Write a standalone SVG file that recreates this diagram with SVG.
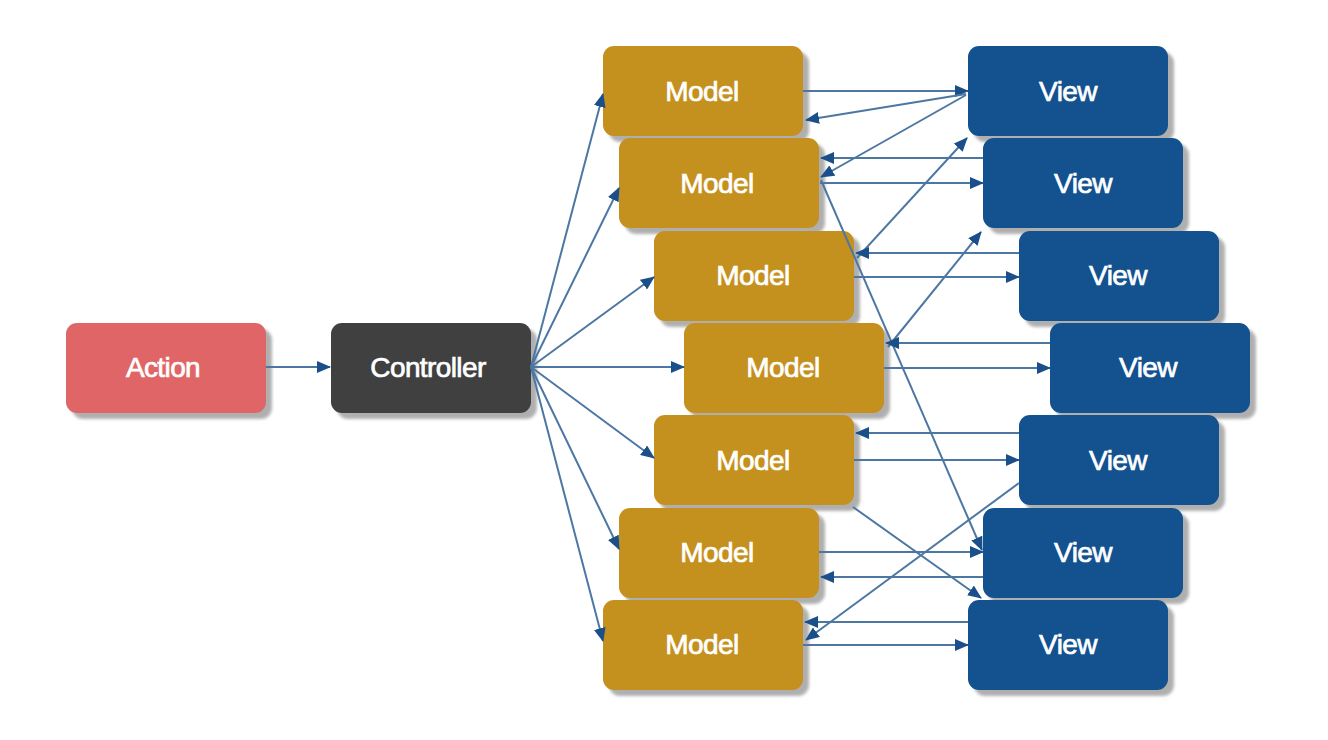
<svg xmlns="http://www.w3.org/2000/svg" width="1328" height="740" viewBox="0 0 1328 740">
<defs>
<style>
.sh{fill:#9c9c9c;opacity:0.8}
.box{stroke:none}
.action{fill:#DF6566}
.ctrl{fill:#404040}
.model{fill:#C4911F}
.view{fill:#13528F}
.lbl{font-family:"Liberation Sans",Arial,sans-serif;font-size:28px;letter-spacing:-0.6px;fill:#ffffff;stroke:#ffffff;stroke-width:0.7px;text-anchor:middle}
.c{stroke:#4d77a3;stroke-width:2;fill:none;marker-end:url(#ah)}
</style>
<filter id="blur" x="-10%" y="-10%" width="120%" height="120%"><feGaussianBlur stdDeviation="1.5"/></filter>
<marker id="ah" markerUnits="userSpaceOnUse" markerWidth="14" markerHeight="12" refX="13" refY="6" orient="auto" viewBox="0 0 14 12">
<path d="M0,0 L14,6 L0,12 z" fill="#1b4f8a"/>
</marker>
</defs>
<rect width="1328" height="740" fill="#ffffff"/>

<g id="action">
<rect class="sh" x="72" y="329" width="200" height="90" rx="11" filter="url(#blur)"/>
<rect class="box action" x="66" y="323" width="200" height="90" rx="11"/>
<text class="lbl" x="163" y="377">Action</text>
</g>
<g id="controller">
<rect class="sh" x="337" y="329" width="200" height="90" rx="11" filter="url(#blur)"/>
<rect class="box ctrl" x="331" y="323" width="200" height="90" rx="11"/>
<text class="lbl" x="428" y="377">Controller</text>
</g>

<g id="model1">
<rect class="sh" x="609" y="52" width="200" height="90" rx="11" filter="url(#blur)"/>
<rect class="box model" x="603" y="46" width="200" height="90" rx="11"/>
<text class="lbl" x="702" y="101">Model</text>
</g>
<g id="model2">
<rect class="sh" x="625" y="144" width="200" height="90" rx="11" filter="url(#blur)"/>
<rect class="box model" x="619" y="138" width="200" height="90" rx="11"/>
<text class="lbl" x="717" y="193">Model</text>
</g>
<g id="model3">
<rect class="sh" x="660" y="237" width="200" height="90" rx="11" filter="url(#blur)"/>
<rect class="box model" x="654" y="231" width="200" height="90" rx="11"/>
<text class="lbl" x="753" y="285">Model</text>
</g>
<g id="model4">
<rect class="sh" x="690" y="329" width="200" height="90" rx="11" filter="url(#blur)"/>
<rect class="box model" x="684" y="323" width="200" height="90" rx="11"/>
<text class="lbl" x="783" y="377">Model</text>
</g>
<g id="model5">
<rect class="sh" x="660" y="421" width="200" height="90" rx="11" filter="url(#blur)"/>
<rect class="box model" x="654" y="415" width="200" height="90" rx="11"/>
<text class="lbl" x="753" y="470">Model</text>
</g>
<g id="model6">
<rect class="sh" x="625" y="514" width="200" height="90" rx="11" filter="url(#blur)"/>
<rect class="box model" x="619" y="508" width="200" height="90" rx="11"/>
<text class="lbl" x="717" y="562">Model</text>
</g>
<g id="model7">
<rect class="sh" x="609" y="606" width="200" height="90" rx="11" filter="url(#blur)"/>
<rect class="box model" x="603" y="600" width="200" height="90" rx="11"/>
<text class="lbl" x="702" y="654">Model</text>
</g>

<g id="view1">
<rect class="sh" x="974" y="52" width="200" height="90" rx="11" filter="url(#blur)"/>
<rect class="box view" x="968" y="46" width="200" height="90" rx="11"/>
<text class="lbl" x="1068" y="101">View</text>
</g>
<g id="view2">
<rect class="sh" x="989" y="144" width="200" height="90" rx="11" filter="url(#blur)"/>
<rect class="box view" x="983" y="138" width="200" height="90" rx="11"/>
<text class="lbl" x="1083" y="193">View</text>
</g>
<g id="view3">
<rect class="sh" x="1025" y="237" width="200" height="90" rx="11" filter="url(#blur)"/>
<rect class="box view" x="1019" y="231" width="200" height="90" rx="11"/>
<text class="lbl" x="1118" y="285">View</text>
</g>
<g id="view4">
<rect class="sh" x="1056" y="329" width="200" height="90" rx="11" filter="url(#blur)"/>
<rect class="box view" x="1050" y="323" width="200" height="90" rx="11"/>
<text class="lbl" x="1148" y="377">View</text>
</g>
<g id="view5">
<rect class="sh" x="1025" y="421" width="200" height="90" rx="11" filter="url(#blur)"/>
<rect class="box view" x="1019" y="415" width="200" height="90" rx="11"/>
<text class="lbl" x="1118" y="470">View</text>
</g>
<g id="view6">
<rect class="sh" x="989" y="514" width="200" height="90" rx="11" filter="url(#blur)"/>
<rect class="box view" x="983" y="508" width="200" height="90" rx="11"/>
<text class="lbl" x="1083" y="562">View</text>
</g>
<g id="view7">
<rect class="sh" x="974" y="606" width="200" height="90" rx="11" filter="url(#blur)"/>
<rect class="box view" x="968" y="600" width="200" height="90" rx="11"/>
<text class="lbl" x="1068" y="654">View</text>
</g>

<g id="connectors">
<line class="c" x1="266" y1="367" x2="330" y2="367"/>
<line class="c" x1="531" y1="367" x2="603" y2="94"/>
<line class="c" x1="531" y1="367" x2="619" y2="188"/>
<line class="c" x1="531" y1="367" x2="654" y2="277"/>
<line class="c" x1="531" y1="367" x2="684" y2="367"/>
<line class="c" x1="531" y1="367" x2="654" y2="458"/>
<line class="c" x1="531" y1="367" x2="619" y2="549"/>
<line class="c" x1="531" y1="367" x2="603" y2="641"/>

<line class="c" x1="803" y1="91" x2="968" y2="91"/>
<line class="c" x1="966" y1="94" x2="806" y2="120"/>
<line class="c" x1="966" y1="95" x2="821" y2="177"/>
<line class="c" x1="983" y1="158" x2="821" y2="158"/>
<line class="c" x1="820" y1="183" x2="983" y2="183"/>
<line class="c" x1="857" y1="258" x2="967" y2="138"/>
<line class="c" x1="821" y1="180" x2="982" y2="550"/>
<line class="c" x1="1019" y1="253" x2="856" y2="253"/>
<line class="c" x1="854" y1="277" x2="1019" y2="277"/>
<line class="c" x1="888" y1="347" x2="981" y2="232"/>
<line class="c" x1="1050" y1="343" x2="886" y2="343"/>
<line class="c" x1="884" y1="368" x2="1050" y2="368"/>
<line class="c" x1="1019" y1="433" x2="856" y2="433"/>
<line class="c" x1="854" y1="460" x2="1019" y2="460"/>
<line class="c" x1="1019" y1="483" x2="806" y2="640"/>
<line class="c" x1="853" y1="507" x2="981" y2="598"/>
<line class="c" x1="819" y1="552" x2="983" y2="552"/>
<line class="c" x1="983" y1="577" x2="821" y2="577"/>
<line class="c" x1="968" y1="622" x2="805" y2="622"/>
<line class="c" x1="803" y1="645" x2="968" y2="645"/>
</g>
</svg>
